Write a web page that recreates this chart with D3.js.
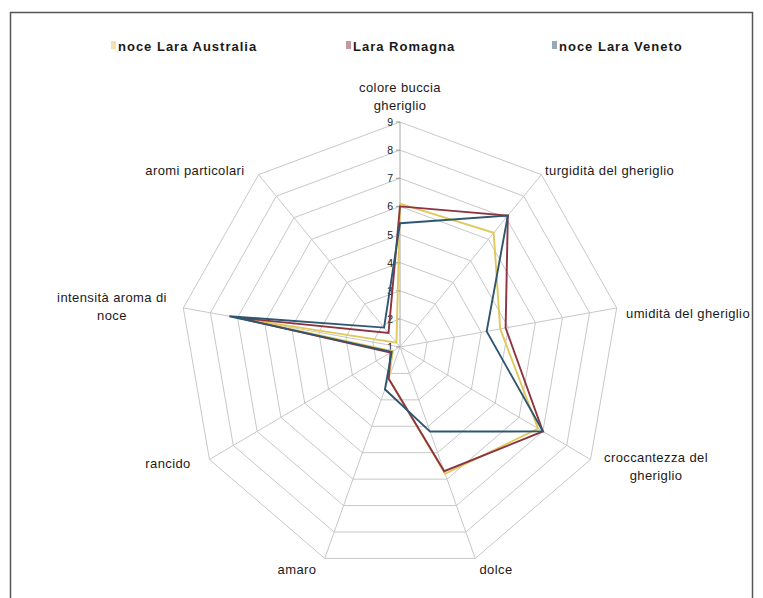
<!DOCTYPE html>
<html>
<head>
<meta charset="utf-8">
<script src="https://cdn.jsdelivr.net/npm/d3@7"></script>
<style>
  html, body { margin: 0; padding: 0; background: #fff; }
  svg { display: block; }
  text { font-family: "Liberation Sans", Arial, sans-serif; fill: #1a1a1a; }
</style>
</head>
<body>
<svg id="chart" width="763" height="598"></svg>
<script>
// Sensory attributes (clockwise from the top)
const categories = [
  ["colore buccia", "gheriglio"],
  ["turgidità del gheriglio"],
  ["umidità del gheriglio"],
  ["croccantezza del", "gheriglio"],
  ["dolce"],
  ["amaro"],
  ["rancido"],
  ["intensità aroma di", "noce"],
  ["aromi particolari"]
];

const seriesNames = ["noce Lara Australia", "Lara Romagna", "noce Lara Veneto"];
const australia = [6.1, 6.3, 4.7, 6.8, 5.8, 2.2, 1.3, 6.8, 1.2];
const romagna   = [6.0, 7.1, 4.9, 7.0, 5.7, 2.2, 1.4, 7.0, 1.65];
const veneto    = [5.4, 7.1, 4.2, 7.0, 4.2, 2.6, 1.35, 7.3, 1.9];
const seriesColors = ["#e0c95c", "#8c3440", "#2f5670"];

const tickValues = [1, 2, 3, 4, 5, 6, 7, 8, 9];

const svg = d3.select("#chart");

// outer frame
svg.append("rect")
  .attr("x", 10.5).attr("y", 12.5)
  .attr("width", 742).attr("height", 600)
  .attr("fill", "#fff").attr("stroke", "#555").attr("stroke-width", 1.5);

const cx = 400, cy = 347;
const rX = d3.scaleLinear().domain([1, 9]).range([0, 220]);
const rY = d3.scaleLinear().domain([1, 9]).range([0, 225]);
const angle = d3.scaleLinear().domain([0, categories.length]).range([0, 2 * Math.PI]);

function pt(i, v) {
  const a = angle(i);
  return [cx + rX(v) * Math.sin(a), cy - rY(v) * Math.cos(a)];
}

const idx = d3.range(categories.length);
const grid = svg.append("g");

// rings
tickValues.slice(1).forEach(v => {
  grid.append("path")
    .attr("d", d3.line()(idx.map(i => pt(i, v))) + "Z")
    .attr("fill", "none").attr("stroke", "#c8c8c8").attr("stroke-width", 1);
});

// spokes
idx.forEach(i => {
  const p = pt(i, 9);
  grid.append("line")
    .attr("x1", cx).attr("y1", cy).attr("x2", p[0]).attr("y2", p[1])
    .attr("stroke", i === 0 ? "#a8a8a8" : "#c8c8c8").attr("stroke-width", 1);
});

// value axis ticks and labels
tickValues.forEach(v => {
  const y = cy - rY(v);
  grid.append("line")
    .attr("x1", cx - 4).attr("x2", cx).attr("y1", y).attr("y2", y)
    .attr("stroke", "#999");
  grid.append("text")
    .attr("x", cx - 7).attr("y", y + 4)
    .attr("text-anchor", "end")
    .attr("font-size", 10.5)
    .text(v);
});

// series polygons
const allSeries = [australia, romagna, veneto];
allSeries.forEach((vals, s) => {
  svg.append("path")
    .attr("d", d3.line()(vals.map((v, i) => pt(i, v))) + "Z")
    .attr("fill", "none")
    .attr("stroke", seriesColors[s])
    .attr("stroke-width", 1.9)
    .attr("stroke-linejoin", "miter");
});

// category labels
const labelPos = [
  { x: 400, y: 92, anchor: "middle" },
  { x: 545, y: 175, anchor: "start" },
  { x: 626, y: 318, anchor: "start" },
  { x: 656, y: 462, anchor: "middle" },
  { x: 496, y: 574, anchor: "middle" },
  { x: 297, y: 574, anchor: "middle" },
  { x: 168, y: 468, anchor: "middle" },
  { x: 112, y: 302, anchor: "middle" },
  { x: 195, y: 175, anchor: "middle" }
];
categories.forEach((lines, i) => {
  const t = svg.append("text")
    .attr("x", labelPos[i].x).attr("y", labelPos[i].y)
    .attr("text-anchor", labelPos[i].anchor)
    .attr("font-size", 13)
    .attr("letter-spacing", 0.4);
  lines.forEach((l, k) => {
    t.append("tspan").attr("x", labelPos[i].x).attr("dy", k === 0 ? 0 : 18).text(l);
  });
});

// legend
const legendX = [118, 353, 559];
seriesNames.forEach((n, s) => {
  svg.append("rect")
    .attr("x", legendX[s] - 7).attr("y", 41)
    .attr("width", 5).attr("height", 8)
    .attr("fill", seriesColors[s]).attr("opacity", 0.5);
  svg.append("text")
    .attr("x", legendX[s]).attr("y", 51)
    .attr("font-size", 13).attr("font-weight", "bold")
    .attr("letter-spacing", 1.0)
    .text(n);
});
</script>
</body>
</html>
